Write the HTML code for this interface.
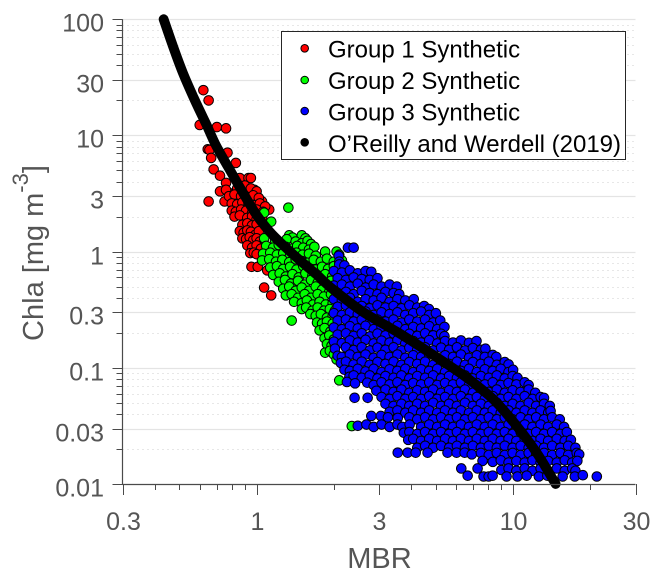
<!DOCTYPE html>
<html lang="en">
<head>
<meta charset="utf-8">
<title>MBR vs Chla</title>
<style>
html,body{margin:0;padding:0;background:#fff;}
svg{display:block;font-family:"Liberation Sans",Arial,sans-serif;}
</style>
</head>
<body>
<svg id="chart" xmlns="http://www.w3.org/2000/svg" width="662" height="580" viewBox="0 0 662 580">
  <rect width="662" height="580" fill="#fff"/>
  <g id="grid"></g>
  <g id="group1"></g>
  <g id="group2"></g>
  <g id="group3"></g>
  <path id="curve" fill="none" stroke="#000" stroke-width="9.8" stroke-linecap="round" stroke-linejoin="round"/>
  <g id="axes"></g>
  <text x="379.5" y="568" font-size="29" fill="#555" text-anchor="middle">MBR</text>
  <text transform="translate(43,253) rotate(-90)" font-size="29" fill="#555" text-anchor="middle">Chla [mg m<tspan font-size="22" dy="-15">-3</tspan><tspan dy="15">]</tspan></text>
  <g>
    <rect x="281.5" y="31.5" width="344" height="128" fill="#fff" stroke="#262626" stroke-width="1"/>
    <g>
      <circle cx="304.7" cy="48.3" r="3.8" fill="#f00" stroke="#000"/>
      <text x="328" y="57.5" font-size="24" fill="#000">Group 1 Synthetic</text>
    </g>
    <g>
      <circle cx="304.7" cy="80" r="3.8" fill="#0f0" stroke="#000"/>
      <text x="328" y="89" font-size="24" fill="#000">Group 2 Synthetic</text>
    </g>
    <g>
      <circle cx="304.7" cy="111" r="3.8" fill="#00f" stroke="#000"/>
      <text x="328" y="120.5" font-size="24" fill="#000">Group 3 Synthetic</text>
    </g>
    <g>
      <circle cx="304.7" cy="142.3" r="3.8" fill="#000" stroke="#000"/>
      <text x="328" y="152" font-size="24" fill="#000">O’Reilly and Werdell (2019)</text>
    </g>
  </g>
</svg>
<script>
const xMajorTicks = [0.3, 1, 3, 10, 30];
const xMajorLabels = ['0.3', '1', '3', '10', '30'];
const xMinorTicks = [0.4, 0.5, 0.6, 0.7, 0.8, 0.9, 2, 4, 5, 6, 7, 8, 9, 20];
const yMajorTicks = [0.01, 0.03, 0.1, 0.3, 1, 3, 10, 30, 100];
const yMajorLabels = ['0.01', '0.03', '0.1', '0.3', '1', '3', '10', '30', '100'];
const yMinorTicks = [0.02, 0.04, 0.05, 0.06, 0.07, 0.08, 0.09, 0.2, 0.4, 0.5, 0.6, 0.7, 0.8, 0.9, 2, 4, 5, 6, 7, 8, 9, 20, 40, 50, 60, 70, 80, 90];

const curveMbr = [0.434, 0.472, 0.516, 0.573, 0.637, 0.697, 0.785, 0.884, 0.997, 1.124, 1.263, 1.471, 1.714, 1.978, 2.59, 3.51, 4.73, 6.35, 7.4, 8.62, 10.3, 12.35, 14.65];
const curveChla = [100, 58.4, 34.5, 20.3, 12.4, 8.06, 5.08, 3.22, 2.08, 1.486, 1.149, 0.845, 0.634, 0.476, 0.304, 0.205, 0.135, 0.0874, 0.0676, 0.0502, 0.0318, 0.0186, 0.01];

const group1Points = [
[.62,24.5],[.65,20],[.6,12.3],[.7,11.8],[.76,11.5],[.645,7.6],[.655,7.5],[.77,7.1],[.665,6.4],[.83,5.8],[.68,5.1],[.72,4.5],[.86,4.3],[.93,4.3],[.95,4.3],[.76,3.9],[.98,3.4],[.72,3.3],[.78,3.2],[.95,3.3],[.65,2.7],[.75,2.7],[.8,2.9],[1.05,2.7],[1.12,2.3],
[.76,3.4],[.84,3.5],[.9,3.7],[.95,3.5],[1,3.3],[.78,3.0],[.82,3.1],[.87,3.0],[.92,2.95],[.97,3.05],[1.02,2.9],
[.8,2.6],[.84,2.55],[.88,2.65],[.93,2.6],[.98,2.5],[1.03,2.6],[1.08,2.45],[.8,2.25],[.83,2.2],[.87,2.3],[.91,2.25],[.96,2.15],[1,2.3],[1.06,2.2],
[.82,2.0],[.86,2.05],[.92,1.95],[.96,2.02],[1,1.9],[1.05,1.95],[.88,1.7],[.92,1.75],[.96,1.68],[1,1.72],
[.86,1.5],[.89,1.45],[.92,1.52],[.95,1.48],[.99,1.4],[1.02,1.5],[.88,1.3],[.91,1.28],[.94,1.33],[.97,1.25],[1,1.3],[1.03,1.22],
[.92,1.13],[.96,1.08],[1,1.13],[1.04,1.06],[.945,.97],[.975,.98],[1,.95],[.955,.74],[1.01,.74],[1.1,.69],[1.07,.49],[1.14,.42]
];

const group2Points = [
[1.33,2.39],[1.07,2.16],[1.14,1.81],[1.37,.255],[2.35,.0315],[2.1,.078],
[1.34,1.38],[1.38,1.32],[1.5,1.38],[1.55,1.3],[1.07,1.3],[1.18,1.25],[1.26,1.2],[1.31,1.28],[1.42,1.22],[1.5,1.18],[1.58,1.24],[1.63,1.16],
[1.09,1.12],[1.16,1.08],[1.22,1.14],[1.3,1.1],[1.37,1.06],[1.44,1.12],[1.52,1.08],[1.6,1.04],[1.68,1.1],
[1.06,.96],[1.13,.98],[1.2,.94],[1.27,.97],[1.35,.92],[1.43,.98],[1.51,.94],[1.6,.96],[1.7,.92],[1.85,1.0],[2.05,1.0],[2.1,.94],
[1.05,.84],[1.12,.86],[1.19,.82],[1.26,.85],[1.34,.81],[1.42,.86],[1.5,.83],[1.58,.8],[1.67,.85],[1.78,.82],[1.88,.87],[2,.82],[2.15,.84],
[1.13,.73],[1.2,.75],[1.27,.71],[1.35,.74],[1.43,.7],[1.52,.75],[1.6,.72],[1.7,.7],[1.8,.74],[1.9,.71],[2,.75],[2.15,.72],
[1.16,.63],[1.23,.65],[1.3,.61],[1.38,.64],[1.46,.6],[1.55,.65],[1.65,.62],[1.75,.6],[1.85,.64],[1.97,.61],[2.1,.63],
[1.22,.55],[1.29,.57],[1.36,.53],[1.45,.56],[1.54,.52],[1.63,.57],[1.73,.54],[1.84,.52],[1.95,.56],
[1.27,.48],[1.34,.5],[1.42,.46],[1.5,.49],[1.6,.46],[1.7,.5],[1.8,.47],[1.92,.45],[2.02,.49],
[1.3,.42],[1.37,.43],[1.45,.4],[1.54,.43],[1.63,.4],[1.73,.43],[1.83,.41],[1.95,.43],
[1.4,.37],[1.5,.36],[1.57,.38],[1.66,.35],[1.76,.37],[1.86,.35],[1.98,.36],
[1.5,.32],[1.56,.33],[1.65,.31],[1.73,.33],[1.83,.31],[1.93,.32],[2.02,.31],
[1.62,.29],[1.7,.28],[1.78,.29],[1.88,.27],[1.98,.28],
[1.72,.245],[1.8,.24],[1.88,.25],[1.98,.24],[1.76,.21],[1.84,.22],[1.94,.205],[2.02,.21],
[1.84,.18],[1.92,.19],[2,.175],[1.88,.16],[1.96,.155],[1.85,.135],[1.93,.14],[2,.13],[2.05,.118]
];

const group3Points = [
[2.27,1.08],[2.39,1.08],[2.09,.92],[2.1,.82],[2.1,.775],[2.2,.76],
[2,.68],[2.15,.66],[2.31,.69],[2.48,.65],[2.66,.68],[2.8,.67],
[2.07,.59],[2.23,.57],[2.39,.6],[2.57,.58],[2.76,.57],[2.96,.59],
[2,.51],[2.15,.52],[2.31,.5],[2.48,.53],[2.66,.49],[2.86,.52],[3.07,.5],[3.3,.52],[3.52,.5],
[2.07,.44],[2.23,.45],[2.39,.43],[2.57,.46],[2.76,.44],[2.96,.43],[3.18,.45],[3.42,.44],[3.6,.43],
[2,.39],[2.15,.38],[2.31,.4],[2.48,.37],[2.66,.39],[2.86,.38],[3.07,.4],[3.3,.37],[3.54,.39],[3.8,.38],[4.1,.39],
[2.07,.335],[2.23,.345],[2.39,.33],[2.57,.34],[2.76,.325],[2.96,.345],[3.18,.33],[3.42,.34],[3.67,.325],[3.94,.345],[4.23,.33],[4.5,.34],[4.7,.32],
[2,.295],[2.15,.285],[2.31,.3],[2.48,.29],[2.66,.305],[2.86,.285],[3.07,.3],[3.3,.29],[3.54,.3],[3.8,.285],[4.08,.295],[4.38,.305],[4.71,.285],[5,.295],
[2.07,.255],[2.23,.26],[2.39,.25],[2.57,.26],[2.76,.245],[2.96,.26],[3.18,.25],[3.42,.26],[3.67,.245],[3.94,.26],[4.23,.25],[4.54,.26],[4.88,.245],[5.2,.255],
[2,.222],[2.15,.215],[2.31,.228],[2.48,.218],[2.66,.23],[2.86,.215],[3.07,.226],[3.3,.218],[3.54,.23],[3.8,.215],[4.08,.225],[4.38,.218],[4.71,.228],[5.06,.215],[5.4,.225],
[2.07,.193],[2.23,.198],[2.39,.188],[2.57,.198],[2.76,.186],[2.96,.197],[3.18,.19],[3.42,.198],[3.67,.186],[3.94,.196],[4.23,.188],[4.54,.198],[4.88,.19],[5.24,.196],[5.4,.187],
[2,.168],[2.15,.163],[2.31,.172],[2.48,.165],[2.66,.174],[2.86,.162],[3.07,.171],[3.3,.165],[3.54,.173],[3.8,.162],[4.08,.17],[4.38,.165],[4.71,.173],[5.06,.162],[5.43,.17],[5.83,.165],[6.26,.172],[6.73,.164],[7.2,.17],
[2.02,.146],[2.23,.15],[2.39,.142],[2.57,.15],[2.76,.141],[2.96,.149],[3.18,.143],[3.42,.15],[3.67,.141],[3.94,.149],[4.23,.143],[4.54,.15],[4.88,.141],[5.24,.149],[5.63,.143],[6.04,.15],[6.49,.141],[6.97,.148],[7.49,.143],[7.8,.146],
[2.07,.127],[2.15,.124],[2.31,.13],[2.48,.124],[2.66,.13],[2.86,.122],[3.07,.129],[3.3,.124],[3.54,.13],[3.8,.122],[4.08,.128],[4.38,.124],[4.71,.13],[5.06,.122],[5.43,.128],[5.83,.124],[6.26,.13],[6.73,.122],[7.22,.128],[7.76,.124],[8.33,.129],[8.6,.124],
[2.13,.11],[2.23,.113],[2.39,.107],[2.57,.113],[2.76,.106],[2.96,.112],[3.18,.108],[3.42,.113],[3.67,.106],[3.94,.112],[4.23,.108],[4.54,.113],[4.88,.106],[5.24,.112],[5.63,.108],[6.04,.113],[6.49,.106],[6.97,.112],[7.49,.108],[8.04,.113],[8.64,.106],[9.28,.112],[9.6,.107],
[2.2,.0962],[2.31,.094],[2.48,.098],[2.66,.093],[2.86,.098],[3.07,.092],[3.3,.097],[3.54,.094],[3.8,.098],[4.08,.092],[4.38,.097],[4.71,.094],[5.06,.098],[5.43,.092],[5.83,.097],[6.26,.094],[6.73,.098],[7.22,.092],[7.76,.097],[8.33,.094],[8.95,.098],[9.6,.092],[10,.096],
[2.3,.0837],[2.39,.086],[2.57,.082],[2.76,.086],[2.96,.081],[3.18,.085],[3.42,.082],[3.67,.086],[3.94,.081],[4.23,.085],[4.54,.082],[4.88,.086],[5.24,.081],[5.63,.085],[6.04,.082],[6.49,.086],[6.97,.081],[7.49,.085],[8.04,.082],[8.64,.086],[9.28,.081],[9.96,.085],[10.4,.082],
[2.25,.0755],[2.42,.0735],[2.7,.0745],[2.86,.071],[3.07,.075],[3.3,.072],[3.54,.075],[3.8,.071],[4.08,.074],[4.38,.072],[4.71,.075],[5.06,.071],[5.43,.074],[5.83,.072],[6.26,.075],[6.73,.071],[7.22,.074],[7.76,.072],[8.33,.075],[8.95,.071],[9.6,.074],[10.3,.072],[11.1,.075],[11.5,.071],
[2.93,.0634],[3.18,.065],[3.42,.062],[3.67,.065],[3.94,.061],[4.23,.064],[4.54,.062],[4.88,.065],[5.24,.061],[5.63,.064],[6.04,.062],[6.49,.065],[6.97,.061],[7.49,.064],[8.04,.062],[8.64,.065],[9.28,.061],[9.96,.064],[10.7,.062],[11.5,.065],[12.2,.061],
[2.41,.0552],[2.71,.0552],[3.07,.056],[3.3,.054],[3.54,.057],[3.8,.054],[4.08,.056],[4.38,.054],[4.71,.057],[5.06,.054],[5.43,.056],[5.83,.054],[6.26,.057],[6.73,.054],[7.22,.056],[7.76,.054],[8.33,.057],[8.95,.054],[9.6,.056],[10.3,.054],[11.1,.057],[11.9,.054],[12.8,.056],[13.2,.055],
[3.18,.049],[3.42,.047],[3.67,.049],[3.94,.047],[4.23,.049],[4.54,.047],[4.88,.05],[5.24,.047],[5.63,.049],[6.04,.047],[6.49,.05],[6.97,.047],[7.49,.049],[8.04,.047],[8.64,.05],[9.28,.047],[9.96,.049],[10.7,.047],[11.5,.05],[12.3,.047],[13.2,.049],[13.9,.047],
[3.3,.0418],[3.54,.043],[3.8,.041],[4.08,.043],[4.38,.041],[4.71,.043],[5.06,.041],[5.43,.043],[5.83,.041],[6.26,.043],[6.73,.041],[7.22,.043],[7.76,.041],[8.33,.043],[8.95,.041],[9.6,.043],[10.3,.041],[11.1,.043],[11.9,.041],[12.8,.043],[13.7,.041],[14,.0425],
[2.8,.0385],[3.05,.0385],[3.25,.0375],[3.55,.037],[3.94,.0375],[4.23,.036],[4.54,.0375],[4.88,.036],[5.24,.0375],[5.63,.036],[6.04,.0375],[6.49,.036],[6.97,.0375],[7.49,.036],[8.04,.0375],[8.64,.036],[9.28,.0375],[9.96,.036],[10.7,.0375],[11.5,.036],[12.3,.0375],[13.2,.036],[14.2,.0375],[15.2,.036],
[2.48,.0317],[2.68,.0325],[2.86,.031],[3.07,.0325],[3.3,.031],[3.54,.0325],[3.7,.031],[3.95,.0325],[4.38,.031],[4.71,.0325],[5.06,.031],[5.43,.0325],[5.83,.031],[6.26,.0325],[6.73,.031],[7.22,.0325],[7.76,.031],[8.33,.0325],[8.95,.031],[9.6,.0325],[10.3,.031],[11.1,.0325],[11.9,.031],[12.8,.0325],[13.7,.031],[14.8,.0325],[15.8,.031],
[3.75,.0276],[3.94,.028],[4.23,.027],[4.54,.028],[4.88,.027],[5.24,.028],[5.63,.027],[6.04,.028],[6.49,.027],[6.97,.028],[7.49,.027],[8.04,.028],[8.64,.027],[9.28,.028],[9.96,.027],[10.7,.028],[11.5,.027],[12.3,.028],[13.2,.027],[14.2,.028],[15.3,.027],[16.2,.028],
[3.9,.024],[4.08,.0245],[4.38,.0235],[4.71,.0245],[5.06,.0235],[5.43,.0245],[5.83,.0235],[6.26,.0245],[6.73,.0235],[7.22,.0245],[7.76,.0235],[8.33,.0245],[8.95,.0235],[9.6,.0245],[10.3,.0235],[11.1,.0245],[11.9,.0235],[12.8,.0245],[13.7,.0235],[14.8,.0245],[15.9,.0235],[16.8,.024],
[4.23,.0205],[4.54,.0213],[4.88,.0205],[5.24,.0213],[5.63,.0205],[6.04,.0213],[6.49,.0205],[6.97,.0213],[7.49,.0205],[8.04,.0213],[8.64,.0205],[9.28,.0213],[9.96,.0205],[10.7,.0213],[11.5,.0205],[12.3,.0213],[13.2,.0205],[14.2,.0213],[15.3,.0205],[16.4,.0213],[17.5,.0205],
[3.55,.0186],[3.88,.0186],[4.17,.0186],[4.64,.0186],[5.55,.0186],[6.02,.0186],[6.47,.0186],[6.9,.018],[7.49,.0185],[8.04,.0178],[8.64,.0185],[9.28,.0178],[9.96,.0185],[10.7,.0178],[11.5,.0185],[12.3,.0178],[13.2,.0185],[14.2,.0178],[15.3,.0185],[16.4,.0178],[17.7,.0185],[18.1,.018],
[7.6,.0158],[8.33,.0155],[8.95,.016],[9.6,.0153],[10.3,.0158],[11.1,.0153],[11.9,.016],[12.8,.0153],[13.7,.0158],[14.8,.0153],[15.9,.016],[17,.0153],[17.8,.0158],
[6.28,.0136],[7.27,.0136],[9,.0132],[9.6,.0136],[10.3,.013],[11.1,.0136],[11.9,.013],[12.8,.0136],[13.7,.013],[14.8,.0136],[15.9,.013],[17,.0136],[17.5,.013],
[6.65,.0118],[7.67,.0116],[8.03,.0116],[8.32,.0118],[9.43,.0116],[10.4,.0116],[11.3,.0118],[12.6,.0116],[13.6,.0118],[15.6,.0116],[17.4,.0116],[18.7,.0119],[21.2,.0116]
];

const svgNS = 'http://www.w3.org/2000/svg';
const xLeft = 122.5;
const xPerDecade = 256.5;
const yBottom = 484;
const yPerDecade = 116.2;
const xRight = 635.5;
const xMinValue = 0.3;
const yMinValue = 0.01;

function xScale(v) { return xLeft + Math.log10(v / xMinValue) * xPerDecade; }
function yScale(v) { return yBottom - Math.log10(v / yMinValue) * yPerDecade; }

function make(tag, parent, attrs) {
  const el = document.createElementNS(svgNS, tag);
  for (const k in attrs) el.setAttribute(k, attrs[k]);
  parent.appendChild(el);
  return el;
}

const gridGroup = document.getElementById('grid');
const axesGroup = document.getElementById('axes');
const axisColor = '#4a4a4a';

yMinorTicks.forEach(function (v) {
  const y = Math.round(yScale(v)) + 0.5;
  const grid = make('line', gridGroup, { x1: xLeft, x2: xRight, y1: y, y2: y, stroke: '#cfcfcf', 'stroke-width': 1, 'stroke-dasharray': '1 4' });
  
  
  const tick = make('line', axesGroup, { x1: xLeft - 6, x2: xLeft, y1: y, y2: y, stroke: axisColor, 'stroke-width': 1 });
  
  
});

yMajorTicks.forEach(function (v, i) {
  const y = Math.round(yScale(v)) + 0.5;
  if (i > 0) {
    const grid = make('line', gridGroup, { x1: xLeft, x2: xRight, y1: y, y2: y, stroke: '#e4e4e4', 'stroke-width': 1.2 });
    
    
  }
  const tick = make('line', axesGroup, { x1: xLeft - 10, x2: xLeft, y1: y, y2: y, stroke: axisColor, 'stroke-width': 1 });
  
  
  const label = make('text', axesGroup, { x: 104, y: y + 12, 'font-size': 25, fill: '#555', 'text-anchor': 'end' });
  
  
  label.textContent = yMajorLabels[i];
});

xMinorTicks.forEach(function (v) {
  const x = Math.round(xScale(v)) + 0.5;
  const tick = make('line', axesGroup, { x1: x, x2: x, y1: yBottom, y2: yBottom + 6, stroke: axisColor, 'stroke-width': 1 });
  
  
});

xMajorTicks.forEach(function (v, i) {
  const x = Math.round(xScale(v)) + 0.5;
  const tick = make('line', axesGroup, { x1: x, x2: x, y1: yBottom, y2: yBottom + 11, stroke: axisColor, 'stroke-width': 1 });
  
  
  const label = make('text', axesGroup, { x: x, y: 530, 'font-size': 25, fill: '#555', 'text-anchor': 'middle' });
  
  
  label.textContent = xMajorLabels[i];
});

const xAxisLine = make('line', axesGroup, { x1: xLeft, x2: xRight, y1: yBottom + 0.5, y2: yBottom + 0.5, stroke: axisColor, 'stroke-width': 1.2 });


const yAxisLine = make('line', axesGroup, { x1: xLeft, x2: xLeft, y1: yScale(100), y2: yBottom + 0.5, stroke: axisColor, 'stroke-width': 1.2 });



function drawPoints(id, points, fill, pointName) {
  const parent = document.getElementById(id);
  points.forEach(function (p) {
    const c = make('circle', parent, { cx: xScale(p[0]), cy: yScale(p[1]), r: 4.8, fill: fill, stroke: '#000', 'stroke-width': 1 });
    
    
  });
}

drawPoints('group1', group1Points, '#f00', 'group-1-point');
drawPoints('group2', group2Points, '#0f0', 'group-2-point');
drawPoints('group3', group3Points, '#00f', 'group-3-point');

function smoothPath(px, py) {
  let d = 'M' + px[0].toFixed(1) + ' ' + py[0].toFixed(1);
  for (let i = 0; i < px.length - 1; i++) {
    const a = Math.max(i - 1, 0);
    const b = Math.min(i + 2, px.length - 1);
    const c1x = px[i] + (px[i + 1] - px[a]) / 6;
    const c1y = py[i] + (py[i + 1] - py[a]) / 6;
    const c2x = px[i + 1] - (px[b] - px[i]) / 6;
    const c2y = py[i + 1] - (py[b] - py[i]) / 6;
    d += ' C' + c1x.toFixed(1) + ' ' + c1y.toFixed(1) + ' ' + c2x.toFixed(1) + ' ' + c2y.toFixed(1) + ' ' + px[i + 1].toFixed(1) + ' ' + py[i + 1].toFixed(1);
  }
  return d;
}

document.getElementById('curve').setAttribute('d', smoothPath(curveMbr.map(xScale), curveChla.map(yScale)));
</script>
</body>
</html>
